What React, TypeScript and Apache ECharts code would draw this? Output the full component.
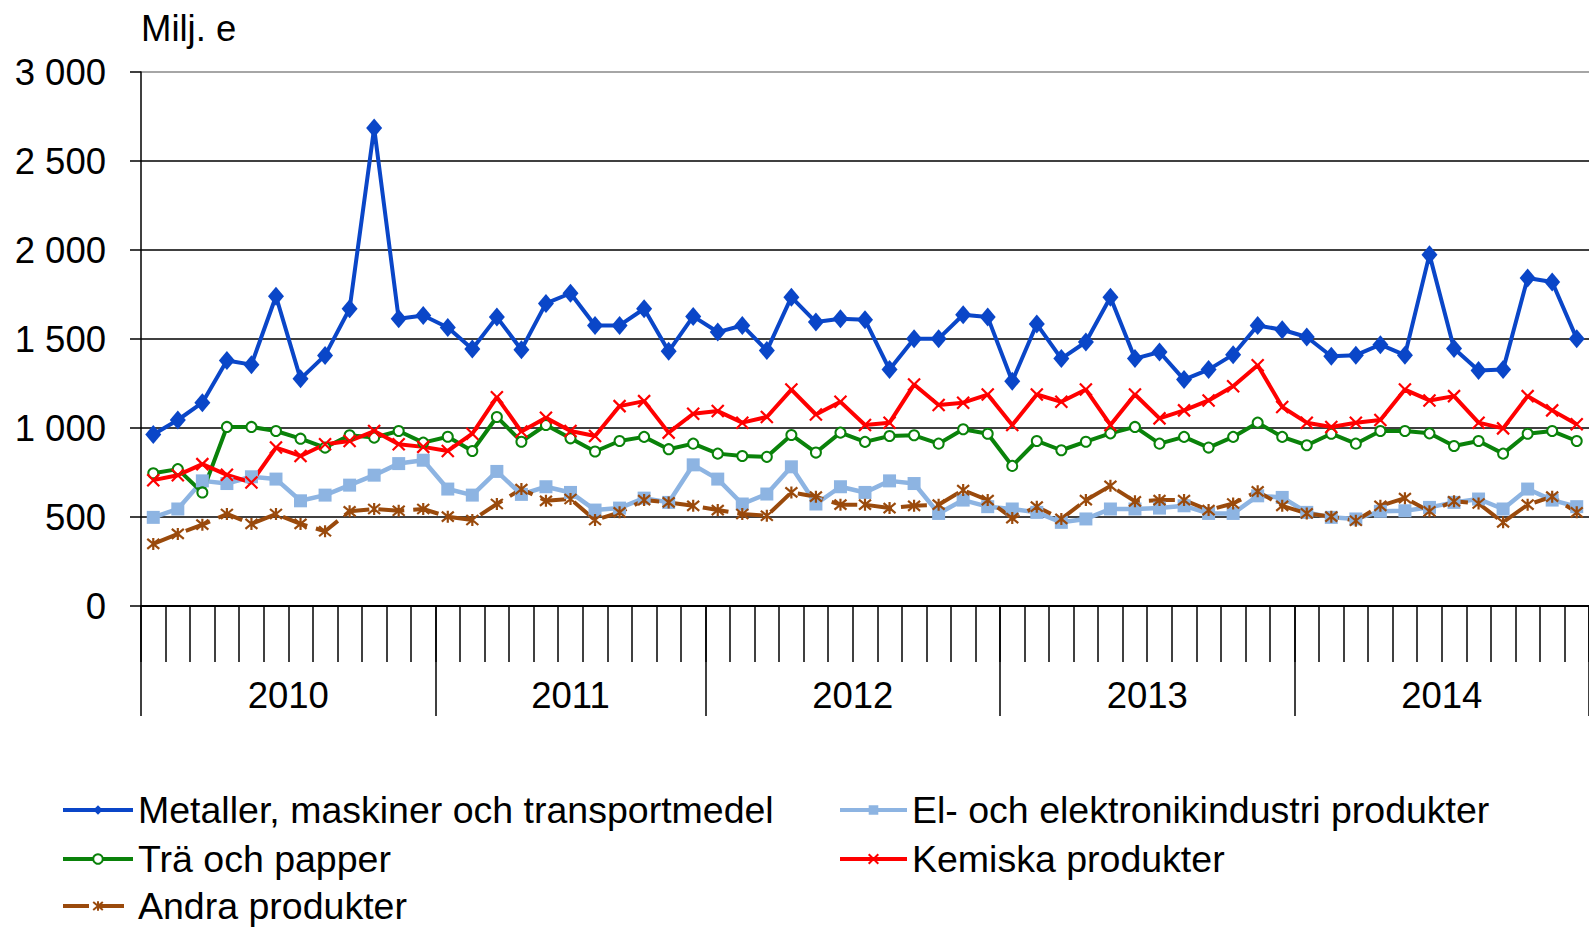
import React, { useEffect, useRef } from 'react';
import * as echarts from 'echarts';

const years = ['2010', '2011', '2012', '2013', '2014'];
const monthsPerYear = [12, 11, 12, 12, 12];
const yTicks = [0, 500, 1000, 1500, 2000, 2500, 3000];

const metaller = [
  964, 1045, 1142, 1379, 1356, 1740, 1276, 1408, 1670, 2685, 1614, 1632,
  1565, 1444, 1623, 1440, 1700, 1757, 1576, 1576, 1670, 1431, 1627,
  1539, 1576, 1435, 1735, 1595, 1614, 1608, 1328, 1502, 1502, 1636, 1623,
  1263, 1584, 1390, 1483, 1735, 1390, 1427, 1272, 1328, 1412, 1576, 1552,
  1511, 1403, 1409, 1468, 1409, 1974, 1446, 1323, 1328, 1843, 1820, 1502,
];
const elektronik = [
  498, 545, 703, 688, 726, 713, 591, 623, 679, 735, 800, 819,
  657, 623, 756, 627, 670, 638, 539, 550, 606, 582, 793,
  713, 573, 629, 782, 573, 670, 638, 703, 688, 520, 595, 558,
  545, 526, 470, 489, 545, 545, 550, 563, 520, 520, 619, 610,
  526, 498, 489, 532, 535, 554, 582, 601, 545, 657, 595, 558,
];
const traPapper = [
  746, 769, 638, 1006, 1006, 983, 940, 890, 959, 946, 983, 918,
  951, 871, 1062, 923, 1017, 942, 868, 927, 950, 881, 912,
  856, 843, 838, 961, 862, 974, 922, 955, 959, 912, 993, 968,
  787, 927, 875, 923, 970, 1006, 912, 950, 890, 950, 1030, 950,
  903, 968, 912, 983, 983, 970, 899, 927, 856, 968, 983, 927,
];
const kemiska = [
  707, 735, 797, 737, 694, 890, 843, 909, 927, 983, 909, 894,
  871, 968, 1173, 980, 1058, 983, 955, 1123, 1151, 974, 1080,
  1095, 1030, 1062, 1216, 1076, 1147, 1017, 1030, 1244, 1129, 1142, 1188,
  1017, 1188, 1147, 1216, 1017, 1188, 1054, 1099, 1155, 1235, 1353, 1118,
  1030, 1006, 1030, 1045, 1216, 1155, 1179, 1030, 998, 1179, 1099, 1021,
];
const andra = [
  349, 405, 457, 517, 461, 517, 461, 420, 532, 545, 535, 545,
  502, 483, 573, 657, 591, 601, 483, 526, 595, 582, 563,
  539, 517, 507, 638, 614, 569, 569, 550, 563, 569, 651, 595,
  494, 558, 489, 595, 675, 588, 595, 595, 539, 576, 644, 563,
  520, 502, 479, 563, 606, 532, 588, 576, 470, 569, 614, 526,
];

const seriesNames = [
  'Metaller, maskiner och transportmedel',
  'El- och elektronikindustri produkter',
  'Trä och papper',
  'Kemiska produkter',
  'Andra produkter',
];

const FONT = '"Liberation Sans", Arial, sans-serif';

function fmtThousands(v: number): string {
  if (v >= 1000) {
    const th = Math.floor(v / 1000);
    const rest = String(v % 1000).padStart(3, '0');
    return `${th} ${rest}`;
  }
  return String(v);
}

export default function App() {
  const ref = useRef<HTMLDivElement>(null);

  useEffect(() => {
    if (!ref.current) return;
    const chart = echarts.init(ref.current, undefined, { renderer: 'svg' });

    const categories: string[] = [];
    const boundaries: number[] = [0];
    const mids: number[] = [];
    const midLabel: Record<string, string> = {};
    let acc = 0;
    years.forEach((y, i) => {
      for (let m = 1; m <= monthsPerYear[i]; m++) categories.push(`${y}-${m}`);
      const mid = acc + monthsPerYear[i] / 2;
      mids.push(mid);
      midLabel[String(mid)] = y;
      acc += monthsPerYear[i];
      boundaries.push(acc);
    });
    const total = acc;

    const baseSeries = (name: string, data: number[], color: string, extra: any) => ({
      name,
      type: 'line',
      data,
      showAllSymbol: true,
      emphasis: { disabled: true },
      lineStyle: { color, width: 4 },
      itemStyle: { color },
      ...extra,
    });

    const series = [
      baseSeries(seriesNames[0], metaller, '#0A46C8', {
        symbol: 'diamond',
        symbolSize: [16, 19],
      }),
      baseSeries(seriesNames[1], elektronik, '#8DB4E2', {
        symbol: 'rect',
        symbolSize: 13,
        lineStyle: { color: '#8DB4E2', width: 4.5 },
      }),
      baseSeries(seriesNames[2], traPapper, '#0A820A', {
        symbol: 'emptyCircle',
        symbolSize: 10,
        itemStyle: { color: '#0A820A', borderWidth: 2 },
      }),
      baseSeries(seriesNames[3], kemiska, '#FF0000', {
        symbol: 'path://M0,0L10,10M10,0L0,10',
        symbolSize: 12,
        itemStyle: { color: '#FF0000', borderColor: '#FF0000', borderWidth: 2.2 },
      }),
      baseSeries(seriesNames[4], andra, '#9A4A0C', {
        symbol: 'path://M0,1L10,11M10,1L0,11M5,0L5,12',
        symbolSize: 12,
        lineStyle: { color: '#9A4A0C', width: 4, type: [26, 9] },
        itemStyle: { color: '#9A4A0C', borderColor: '#9A4A0C', borderWidth: 2.2 },
      }),
    ];

    const legendText = { fontFamily: FONT, fontSize: 37.5, color: '#000', lineHeight: 36 };
    const legendPos: Array<[number, number, number]> = [
      [61, 809, 70],
      [838, 809, 67],
      [61, 858, 70],
      [838, 858, 67],
      [61, 905, 70],
    ];
    const legends = seriesNames.map((n, i) => ({
      orient: 'horizontal',
      left: legendPos[i][0],
      top: legendPos[i][1] - 18,
      itemWidth: legendPos[i][2],
      itemHeight: 12,
      padding: 0,
      data: [n],
      textStyle: legendText,
      lineStyle: { width: 4 },
      selectedMode: false,
    }));

    chart.setOption({
      animation: false,
      backgroundColor: '#fff',
      textStyle: { fontFamily: FONT },
      grid: { left: 141, top: 72, bottom: 321, right: -11.4, containLabel: false },
      graphic: [
        {
          type: 'text',
          x: 141,
          y: 28,
          style: {
            text: 'Milj. e',
            font: `36.5px ${FONT}`,
            fill: '#000',
            align: 'left',
            verticalAlign: 'middle',
          },
        },
      ],
      legend: legends,
      xAxis: [
        {
          type: 'category',
          data: categories,
          boundaryGap: true,
          axisLine: { show: true, lineStyle: { color: '#000', width: 2 } },
          axisTick: {
            show: true,
            interval: 0,
            length: 56,
            lineStyle: { color: '#000', width: 1.5 },
          },
          axisLabel: { show: false },
          splitLine: { show: false },
        },
        {
          type: 'value',
          min: 0,
          max: total,
          position: 'bottom',
          axisLine: { show: false },
          splitLine: { show: false },
          axisTick: {
            show: true,
            customValues: boundaries,
            length: 110,
            lineStyle: { color: '#000', width: 1.5 },
          },
          axisLabel: {
            show: true,
            customValues: mids,
            formatter: (v: number) => midLabel[String(v)] ?? '',
            fontFamily: FONT,
            fontSize: 36.5,
            color: '#000',
            verticalAlign: 'middle',
            margin: 89,
          },
        },
      ],
      yAxis: {
        type: 'value',
        min: yTicks[0],
        max: yTicks[yTicks.length - 1],
        interval: 500,
        axisLine: { show: true, lineStyle: { color: '#000', width: 1.5 } },
        axisTick: { show: true, length: 11, lineStyle: { color: '#000', width: 1.5 } },
        axisLabel: {
          formatter: (v: number) => fmtThousands(v),
          fontFamily: FONT,
          fontSize: 36.5,
          color: '#000',
          margin: 35,
        },
        splitLine: {
          show: true,
          lineStyle: {
            color: ['#000', '#000', '#000', '#000', '#000', '#000', '#888'],
            width: 1.5,
          },
        },
      },
      series,
    });

    return () => {
      chart.dispose();
    };
  }, []);

  return (
    <div
      ref={ref}
      style={{ position: 'fixed', left: 0, top: 0, width: 1589, height: 927, background: '#fff' }}
    />
  );
}
